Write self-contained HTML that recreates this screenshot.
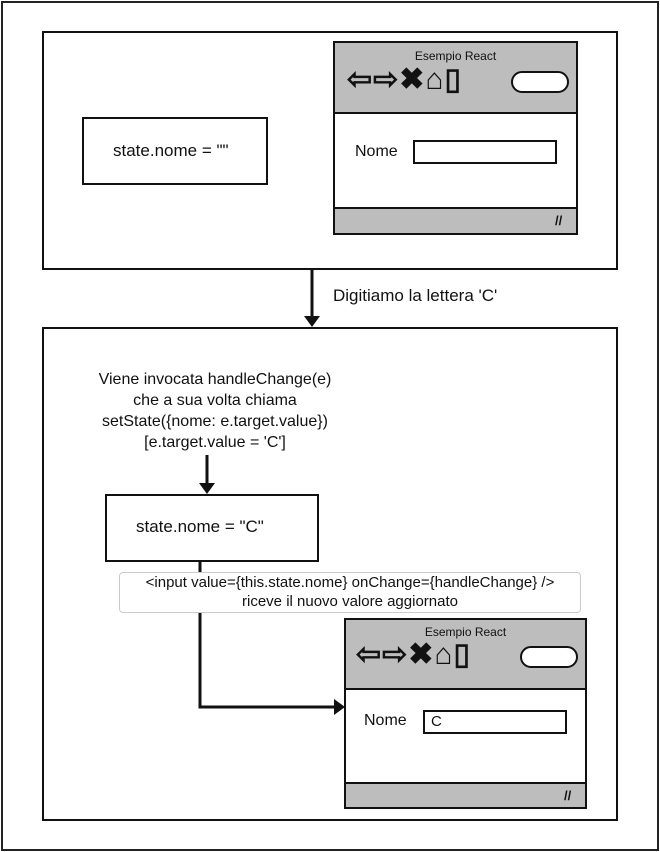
<!DOCTYPE html>
<html><head><style>
body{margin:0;width:660px;height:852px;background:#fff;position:relative;font-family:"Liberation Sans",sans-serif;color:#111;overflow:hidden}
.a{position:absolute;box-sizing:border-box}
.t{position:absolute;white-space:nowrap;font-size:15px}
.ic{position:absolute;white-space:nowrap;font-size:30px;font-weight:bold;letter-spacing:1px;line-height:30px}
</style></head><body>
<div class="a" style="left:1px;top:1px;width:658px;height:850px;border:2px solid #222"></div>
<div class="a" style="left:42px;top:31px;width:576px;height:239px;border:2px solid #111"></div>
<div class="a" style="left:82px;top:117px;width:186px;height:68px;border:2px solid #111"></div>
<div class="t" style="left:113px;top:141px;font-size:17px">state.nome = ""</div>

<div class="a" style="left:42px;top:327px;width:576px;height:494px;border:2px solid #111"></div>
<div class="t" style="left:55px;top:369px;width:320px;text-align:center;line-height:21px;font-size:16px">Viene invocata handleChange(e)<br>che a sua volta chiama<br>setState({nome: e.target.value})<br>[e.target.value = 'C']</div>
<div class="a" style="left:105px;top:494px;width:214px;height:68px;border:2px solid #111"></div>
<div class="t" style="left:136px;top:517px;font-size:17px">state.nome = "C"</div>
<div class="t" style="left:333px;top:286px;font-size:17px">Digitiamo la lettera 'C'</div>

<svg class="a" style="left:0;top:0" width="660" height="852">
<g stroke="#111" stroke-width="3" fill="none">
<line x1="312" y1="270" x2="312" y2="318"/>
<line x1="207" y1="455" x2="207" y2="486"/>
<polyline points="200,562 200,707 336,707"/>
</g>
<g fill="#111">
<polygon points="304,316 320,316 312,327"/>
<polygon points="199,483 215,483 207,494"/>
<polygon points="334,699 334,715 345,707"/>
</g>
</svg>
<div class="a" style="left:119px;top:572px;width:462px;height:41px;border:1px solid #ccc;border-radius:4px;background:#fff"></div>
<div class="t" style="left:119px;top:573px;width:462px;text-align:center;font-size:15px;line-height:19px">&lt;input value={this.state.nome} onChange={handleChange} /&gt;<br>riceve il nuovo valore aggiornato</div>

<!-- browser 1 -->
<div class="a" style="left:333px;top:41px;width:245px;height:194px;border:2px solid #111;background:#fff">
 <div class="a" style="left:0;top:0;width:241px;height:71px;background:#bdbdbd;border-bottom:2px solid #111"></div>
 <div class="t" style="left:0;width:241px;text-align:center;top:6px;font-size:12px">Esempio React</div>
 <div class="ic" style="left:12px;top:22px">⇦⇨✖⌂▯</div>
 <div class="a" style="left:176px;top:28px;width:58px;height:22px;border:2px solid #111;border-radius:11px;background:#fff"></div>
 <div class="t" style="left:20px;top:100px;font-size:16px">Nome</div>
 <div class="a" style="left:78px;top:97px;width:144px;height:24px;border:2px solid #111"></div>
 <div class="a" style="left:0;top:164px;width:241px;height:26px;background:#bdbdbd;border-top:2px solid #111"></div>
 <div class="t" style="left:220px;top:170px;font-size:13px;font-weight:bold">//</div>
</div>
<!-- browser 2 -->
<div class="a" style="left:344px;top:618px;width:243px;height:191px;border:2px solid #111;background:#fff">
 <div class="a" style="left:0;top:0;width:239px;height:70px;background:#bdbdbd;border-bottom:2px solid #111"></div>
 <div class="t" style="left:0;width:239px;text-align:center;top:5px;font-size:12px">Esempio React</div>
 <div class="ic" style="left:10px;top:20px">⇦⇨✖⌂▯</div>
 <div class="a" style="left:174px;top:26px;width:58px;height:22px;border:2px solid #111;border-radius:11px;background:#fff"></div>
 <div class="t" style="left:18px;top:92px;font-size:16px">Nome</div>
 <div class="a" style="left:77px;top:90px;width:144px;height:24px;border:2px solid #111"></div>
 <div class="t" style="left:85px;top:93px">C</div>
 <div class="a" style="left:0;top:162px;width:239px;height:25px;background:#bdbdbd;border-top:2px solid #111"></div>
 <div class="t" style="left:218px;top:168px;font-size:13px;font-weight:bold">//</div>
</div>
</body></html>
